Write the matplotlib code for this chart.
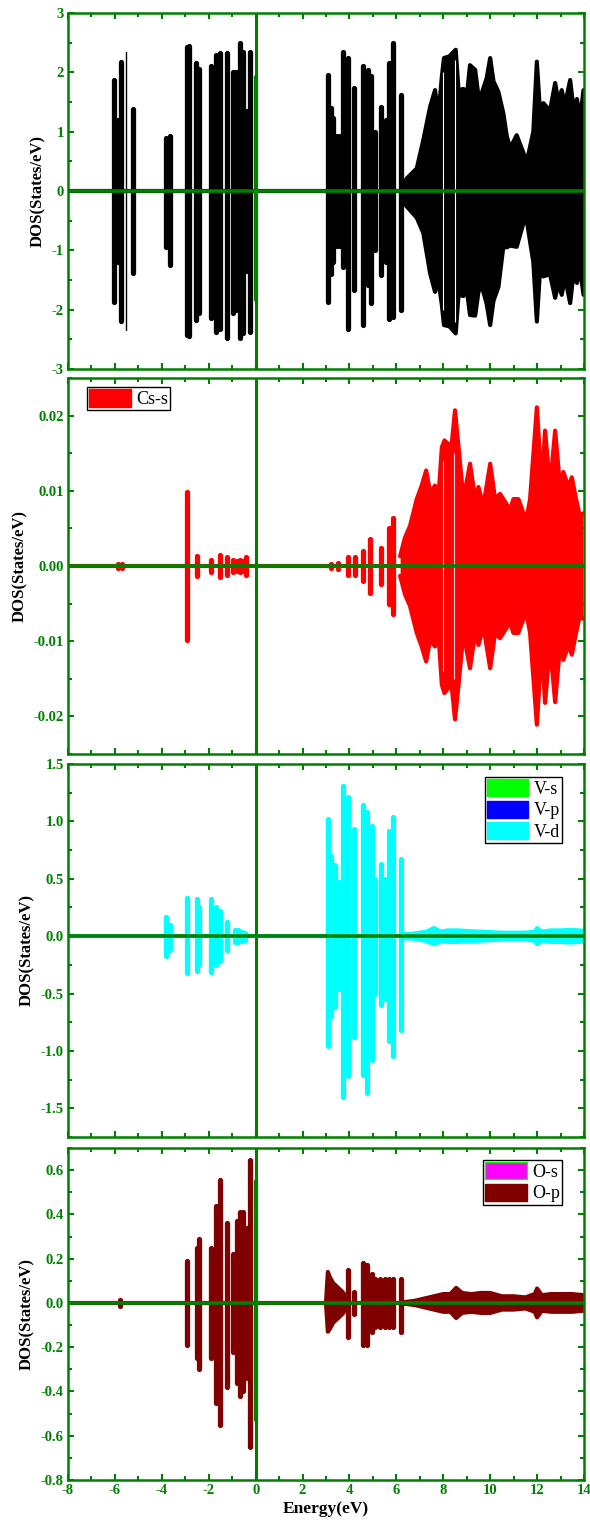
import matplotlib
matplotlib.use("Agg")
import matplotlib.pyplot as plt
from matplotlib.patches import Patch
from matplotlib.ticker import MultipleLocator, FormatStrFormatter

plt.rcParams['font.family'] = ['Liberation Serif', 'DejaVu Serif']
plt.rcParams['axes.unicode_minus'] = False

GREEN = "#008000"

# ---------------- Panel 1: total DOS ----------------
tdos_spk_E = [-6.03, -5.85, -5.74, -5.24, -3.83, -3.64, -2.94, -2.85, -2.54, -2.40, -1.91, -1.70,
              -1.52, -1.23, -0.95, -0.84, -0.67, -0.55, -0.41, -0.24, 3.10, 3.20, 3.31, 3.45,
              3.60, 3.74, 3.95, 4.21, 4.57, 4.77, 4.92, 5.10, 5.33, 5.55, 5.70, 5.87, 6.20]
tdos_spk_up = [1.87, 1.2, 2.18, 1.38, 0.89, 0.93, 2.42, 2.45, 2.15, 2.05, 2.1, 2.29,
               2.33, 2.32, 2.0, 2.0, 2.49, 2.35, 1.35, 2.35, 1.96, 1.4, 1.23, 0.92,
               0.92, 2.35, 2.25, 1.73, 2.1, 2.04, 1.94, 1.0, 1.42, 1.2, 2.15, 2.49, 1.62]
tdos_spk_dn = [-1.87, -1.2, -2.19, -1.38, -0.94, -1.25, -2.43, -2.45, -2.18, -2.05, -2.14, -2.37,
               -2.33, -2.48, -2.05, -2.0, -2.47, -2.4, -1.35, -2.38, -1.87, -1.4, -1.2, -0.93,
               -0.93, -1.28, -2.32, -1.67, -2.26, -1.59, -1.89, -1.0, -1.42, -1.2, -2.16, -2.12, -2.0]
tdos_thin_E = [-5.51]
tdos_thin_up = [2.35]
tdos_thin_dn = [-2.34]
tdos_ef_up = [1.92]
tdos_ef_dn = [-1.83]
tdos_env_E = [6.23, 6.44, 6.87, 7.15, 7.44, 7.65, 7.79, 7.94, 8.03, 8.26, 8.53, 8.65, 8.86, 9.00,
              9.14, 9.36, 9.50, 9.64, 9.85, 10.00, 10.14, 10.35, 10.56, 10.71, 10.85, 11.13,
              11.42, 11.56, 11.84, 11.99, 12.13, 12.27, 12.55, 12.77, 12.91, 13.05, 13.19,
              13.41, 13.55, 13.70, 13.83, 13.98]
tdos_env_up = [0.05, 0.21, 0.38, 0.86, 1.42, 1.70, 1.25, 1.93, 2.24, 2.27, 2.38, 1.70, 1.72, 1.59,
               2.12, 2.04, 1.60, 1.65, 1.90, 2.24, 1.85, 1.67, 1.31, 0.92, 0.72, 0.94,
               0.64, 0.49, 1.00, 2.18, 1.30, 1.48, 1.35, 1.82, 1.50, 1.70, 1.45,
               1.87, 1.40, 1.55, 1.20, 1.70]
tdos_env_dn = [-0.15, -0.26, -0.45, -0.71, -1.39, -1.70, -1.50, -1.92, -2.26, -2.28, -2.40, -1.75, -1.77, -1.65,
               -2.09, -2.10, -1.70, -1.60, -1.90, -2.26, -1.85, -1.62, -0.94, -0.95, -0.92, -0.94,
               -0.54, -0.50, -1.20, -2.20, -1.30, -1.44, -1.40, -1.80, -1.55, -1.75, -1.45,
               -1.89, -1.40, -1.55, -1.30, -1.75]
tdos_gap_E = [7.98, 8.48]
tdos_gap_up = [2.0, 2.2]
tdos_gap_dn = [-2.0, -2.2]

# ---------------- Panel 2: Cs-s ----------------
cs_spk_E = [-5.85, -5.70, -2.94, -2.51, -1.91, -1.52, -1.23, -0.95, -0.80, -0.67, -0.55, -0.41,
            3.20, 3.50, 3.95, 4.23, 4.57, 4.88, 5.33, 5.69, 5.87]
cs_spk_up = [0.0003, 0.0003, 0.0098, 0.0013, 0.0008, 0.0015, 0.0012, 0.0008, 0.0007, 0.0008, 0.0006, 0.0012,
             0.0003, 0.0004, 0.0012, 0.0012, 0.0020, 0.0036, 0.0024, 0.0051, 0.0064]
cs_spk_dn = [-0.0003, -0.0003, -0.0098, -0.0013, -0.0008, -0.0015, -0.0012, -0.0008, -0.0007, -0.0008, -0.0006, -0.0012,
             -0.0003, -0.0004, -0.0012, -0.0012, -0.0020, -0.0036, -0.0024, -0.0051, -0.0064]
cs_thin_E = [-2.85]
cs_thin_up = [0.0073]
cs_thin_dn = [-0.0073]
cs_env_E = [6.16, 6.37, 6.58, 6.87, 7.08, 7.27, 7.44, 7.65, 7.79, 7.94, 8.05, 8.22, 8.36, 8.50,
            8.65, 8.86, 9.14, 9.36, 9.50, 9.71, 10.00, 10.21, 10.42, 10.64, 10.85, 10.99, 11.20,
            11.42, 11.56, 11.70, 11.99, 12.20, 12.34, 12.55, 12.77, 12.98, 13.12, 13.34, 13.48,
            13.66, 13.83, 13.95]
cs_env_up = [0.0013, 0.0038, 0.0053, 0.0089, 0.0107, 0.0127, 0.0098, 0.0107, 0.0089, 0.0158, 0.0167,
             0.0162, 0.0162, 0.0207, 0.0158, 0.0089, 0.0136, 0.0089, 0.0105, 0.0080, 0.0136, 0.0089,
             0.0096, 0.0085, 0.0075, 0.0089, 0.0089, 0.0070, 0.0065, 0.0089, 0.0211, 0.0105, 0.0180,
             0.0105, 0.0180, 0.0105, 0.0125, 0.0105, 0.0118, 0.0089, 0.0065, 0.0070]
cs_env_dn = [-0.0013, -0.0038, -0.0053, -0.0089, -0.0107, -0.0127, -0.0098, -0.0107, -0.0089, -0.0158, -0.0169,
             -0.0162, -0.0160, -0.0204, -0.0158, -0.0089, -0.0136, -0.0089, -0.0105, -0.0080, -0.0136, -0.0089,
             -0.0096, -0.0085, -0.0075, -0.0089, -0.0089, -0.0070, -0.0065, -0.0089, -0.0211, -0.0105, -0.0182,
             -0.0105, -0.0181, -0.0105, -0.0125, -0.0105, -0.0118, -0.0089, -0.0065, -0.0070]
cs_gap_E = [7.98, 8.45]
cs_gap_up = [0.014, 0.015]
cs_gap_dn = [-0.014, -0.015]

# ---------------- Panel 3: V-s, V-p, V-d ----------------
vd_spk_E = [-3.83, -3.64, -2.94, -2.51, -2.42, -1.91, -1.70, -1.52, -1.23, -0.90, -0.75, -0.60, -0.45,
            3.10, 3.20, 3.38, 3.55, 3.74, 3.95, 4.21, 4.57, 4.74, 4.95, 5.10, 5.33, 5.51, 5.70, 5.87, 6.20]
vd_spk_up = [0.17, 0.10, 0.33, 0.32, 0.25, 0.32, 0.25, 0.22, 0.12, 0.05, 0.05, 0.04, 0.03,
             1.02, 0.70, 0.62, 0.47, 1.31, 1.21, 0.93, 1.14, 1.08, 0.96, 0.50, 0.63, 0.50, 0.92, 1.04, 0.67]
vd_spk_dn = [-0.17, -0.12, -0.32, -0.30, -0.25, -0.31, -0.25, -0.22, -0.12, -0.05, -0.05, -0.04, -0.03,
             -0.96, -0.70, -0.62, -0.46, -1.40, -1.22, -0.88, -1.21, -1.37, -1.08, -0.50, -0.60, -0.55, -0.91, -1.04, -0.82]
vd_env_E = [6.25, 6.6, 7.0, 7.3, 7.6, 7.9, 8.2, 8.6, 9.0, 9.5, 10.0, 10.5, 11.0, 11.5, 11.9, 12.0,
            12.2, 12.6, 13.0, 13.4, 13.8, 14.0]
vd_env_up = [0.02, 0.02, 0.03, 0.04, 0.07, 0.04, 0.05, 0.05, 0.045, 0.04, 0.035, 0.03, 0.03, 0.03, 0.04, 0.07,
             0.04, 0.05, 0.05, 0.055, 0.05, 0.045]
vd_env_dn = [-0.02, -0.02, -0.03, -0.045, -0.07, -0.045, -0.05, -0.05, -0.045, -0.04, -0.035, -0.03, -0.03, -0.03,
             -0.04, -0.07, -0.04, -0.05, -0.05, -0.055, -0.05, -0.045]
vs_E = [3.1, 3.7, 4.6, 5.8]
vs_up = [0.005, 0.006, 0.005, 0.004]
vp_E = [-2.9, -1.7, 3.7, 4.9]
vp_up = [0.008, 0.008, 0.01, 0.01]

# ---------------- Panel 4: O-s, O-p ----------------
op_spk_E = [-5.80, -2.94, -2.51, -2.42, -1.91, -1.70, -1.52, -1.23, -0.95, -0.81, -0.67, -0.55, -0.41, -0.24,
            3.95, 4.21, 4.57, 4.74, 4.95, 5.10, 5.30, 5.50, 5.70, 5.87, 6.20]
op_spk_up = [0.015, 0.19, 0.25, 0.29, 0.25, 0.44, 0.555, 0.36, 0.22, 0.37, 0.41, 0.41, 0.34, 0.645,
             0.15, 0.05, 0.18, 0.17, 0.13, 0.11, 0.11, 0.11, 0.11, 0.11, 0.11]
op_spk_dn = [-0.015, -0.19, -0.25, -0.30, -0.25, -0.45, -0.55, -0.38, -0.22, -0.36, -0.42, -0.40, -0.34, -0.65,
             -0.155, -0.05, -0.19, -0.19, -0.13, -0.11, -0.11, -0.11, -0.11, -0.11, -0.13]
op_ef_up = [0.55]
op_ef_dn = [-0.53]
op_env1_E = [3.00, 3.08, 3.15, 3.30, 3.50, 3.70, 3.85]
op_env1_up = [0.0, 0.14, 0.12, 0.09, 0.07, 0.05, 0.03]
op_env1_dn = [0.0, -0.13, -0.12, -0.09, -0.07, -0.05, -0.03]
op_env2_E = [6.3, 6.8, 7.2, 7.6, 8.0, 8.3, 8.55, 8.8, 9.2, 9.6, 10.0, 10.5, 11.0, 11.5, 11.9, 12.0,
             12.2, 12.6, 13.0, 13.5, 14.0]
op_env2_up = [0.003, 0.01, 0.02, 0.03, 0.04, 0.04, 0.068, 0.045, 0.04, 0.045, 0.045, 0.03, 0.03, 0.025, 0.04,
              0.065, 0.035, 0.04, 0.04, 0.04, 0.035]
op_env2_dn = [-0.003, -0.01, -0.02, -0.03, -0.04, -0.04, -0.068, -0.045, -0.04, -0.045, -0.045, -0.03, -0.03,
              -0.025, -0.04, -0.065, -0.035, -0.04, -0.04, -0.04, -0.035]
os_E = [-2.9, -1.7, -0.6, 3.5]
os_up = [0.004, 0.005, 0.006, 0.003]

x_ticks = [-8, -6, -4, -2, 0, 2, 4, 6, 8, 10, 12, 14]

# ---------------- drawing ----------------
fig = plt.figure(figsize=(5.9, 15.23), dpi=100)
L, W = 68 / 590, 516 / 590
rects = [(13, 369), (378, 754), (764, 1137), (1148, 1480)]
axes = [fig.add_axes([L, 1 - b / 1523, W, (b - t) / 1523]) for t, b in rects]


def spikes(ax, E, up, dn, color, lw=3.8, z=2):
    lc = ax.vlines(E, dn, up, colors=color, linewidth=lw, zorder=z)
    lc.set_capstyle('round')


def env(ax, E, up, dn, color, z=2):
    ax.fill_between(E, dn, up, color=color, linewidth=0, zorder=z)
    ax.plot(E, up, color=color, lw=3, zorder=z, solid_capstyle='round', solid_joinstyle='round')
    ax.plot(E, dn, color=color, lw=3, zorder=z, solid_capstyle='round', solid_joinstyle='round')


def legend(ax, handles, loc, anchor):
    ax.legend(handles=handles, loc=loc, bbox_to_anchor=anchor, frameon=True, fancybox=False,
              edgecolor='black', fontsize=13, handlelength=2.3, handleheight=1.1,
              borderpad=0.12, handletextpad=0.3, labelspacing=0.15, borderaxespad=0.2,
              framealpha=1, prop={'family': ['Liberation Serif'], 'size': 13})


def style(ax, ylim, major, minor, fmt, show_x):
    ax.set_xlim(-8, 14)
    ax.set_ylim(*ylim)
    ax.set_xticks(x_ticks)
    ax.xaxis.set_minor_locator(MultipleLocator(1))
    ax.yaxis.set_major_locator(MultipleLocator(major))
    ax.yaxis.set_minor_locator(MultipleLocator(minor))
    ax.yaxis.set_major_formatter(FormatStrFormatter(fmt))
    ax.tick_params(which='both', direction='in', top=True, right=True, color=GREEN, width=1.5,
                   labelcolor=GREEN, labelsize=10.5, pad=3)
    ax.tick_params(which='major', length=4)
    ax.tick_params(which='minor', length=3)
    for lab in ax.get_xticklabels() + ax.get_yticklabels():
        lab.set_fontweight('bold')
    if not show_x:
        ax.tick_params(labelbottom=False)
    for s in ax.spines.values():
        s.set_color(GREEN)
        s.set_linewidth(1.8)
    ax.axhline(0, color=GREEN, lw=2.6, zorder=5)
    ax.axvline(0, color=GREEN, lw=2.2, zorder=5)
    ax.set_ylabel('DOS(States/eV)', fontsize=12, fontweight='bold', color='black', labelpad=4)


# Panel 1
ax = axes[0]
ax.axhline(0, color='black', lw=3, zorder=1)
spikes(ax, tdos_spk_E, tdos_spk_up, tdos_spk_dn, 'black')
spikes(ax, tdos_thin_E, tdos_thin_up, tdos_thin_dn, 'black', lw=1)
env(ax, tdos_env_E, tdos_env_up, tdos_env_dn, 'black')
ax.vlines(tdos_gap_E, tdos_gap_dn, tdos_gap_up, colors='white', linewidth=0.8, zorder=3)
spikes(ax, [0.0], tdos_ef_up, tdos_ef_dn, GREEN, lw=3.0, z=6)
style(ax, (-3, 3), 1, 0.5, '%d', False)

# Panel 2
ax = axes[1]
ax.axhline(0, color='red', lw=3, zorder=1)
spikes(ax, cs_spk_E, cs_spk_up, cs_spk_dn, 'red')
spikes(ax, cs_thin_E, cs_thin_up, cs_thin_dn, 'red', lw=1.2)
env(ax, cs_env_E, cs_env_up, cs_env_dn, 'red')
ax.vlines(cs_gap_E, cs_gap_dn, cs_gap_up, colors='#ffd0d0', linewidth=0.8, zorder=3)
style(ax, (-0.025, 0.025), 0.01, 0.005, '%.2f', False)
legend(ax, [Patch(facecolor='#ff0000', edgecolor='#ff0000', label='Cs-s')],
       'upper left', (0.03, 0.985))

# Panel 3
ax = axes[2]
ax.axhline(0, color='#00e0e0', lw=3, zorder=1)
spikes(ax, vd_spk_E, vd_spk_up, vd_spk_dn, '#00ffff')
env(ax, vd_env_E, vd_env_up, vd_env_dn, '#00ffff')
ax.vlines(vs_E, [-v for v in vs_up], vs_up, colors='#00ff00', linewidth=2, zorder=3)
ax.vlines(vp_E, [-v for v in vp_up], vp_up, colors='black', linewidth=2, zorder=3)
style(ax, (-1.75, 1.5), 0.5, 0.25, '%.1f', False)
legend(ax, [Patch(facecolor='#00ff00', edgecolor='#00ff00', label='V-s'),
            Patch(facecolor='#0000ff', edgecolor='#0000ff', label='V-p'),
            Patch(facecolor='#00ffff', edgecolor='#00ffff', label='V-d')],
       'upper right', (0.965, 0.975))

# Panel 4
ax = axes[3]
ax.axhline(0, color='#800000', lw=3, zorder=1)
spikes(ax, op_spk_E, op_spk_up, op_spk_dn, '#800000')
env(ax, op_env1_E, op_env1_up, op_env1_dn, '#800000')
env(ax, op_env2_E, op_env2_up, op_env2_dn, '#800000')
ax.vlines(os_E, [-v for v in os_up], os_up, colors='#20a0a0', linewidth=2, zorder=3)
spikes(ax, [0.0], op_ef_up, op_ef_dn, GREEN, lw=3.0, z=6)
style(ax, (-0.8, 0.7), 0.2, 0.1, '%.1f', True)
ax.set_xlabel('Energy(eV)', fontsize=12.5, fontweight='bold', color='black', labelpad=3)
legend(ax, [Patch(facecolor='#ff00ff', edgecolor='#00ff00', label='O-s'),
            Patch(facecolor='#800000', edgecolor='#800000', label='O-p')],
       'upper right', (0.965, 0.975))

fig.savefig('out.png', dpi=100)
